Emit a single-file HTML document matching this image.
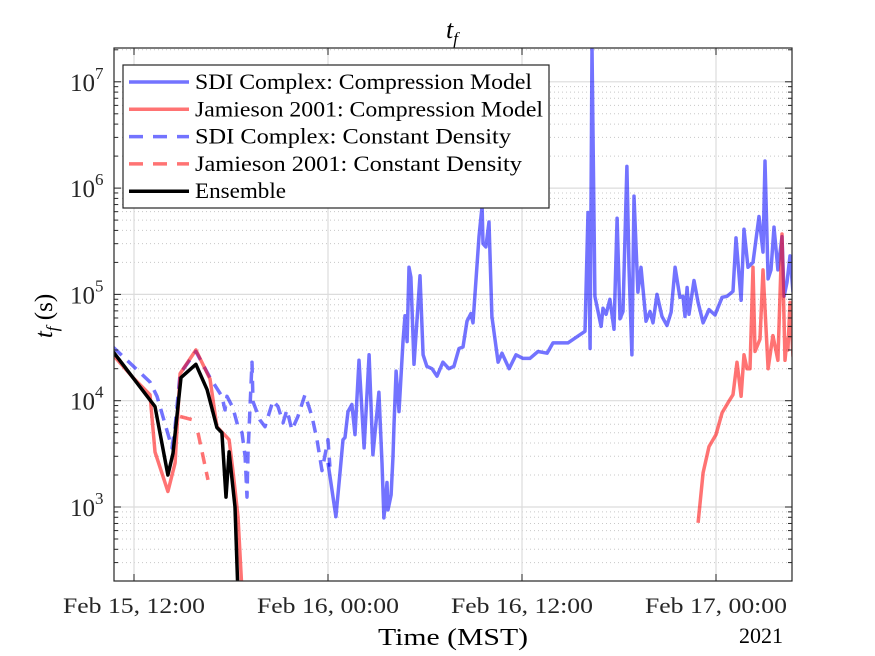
<!DOCTYPE html>
<html><head><meta charset="utf-8"><style>
html,body{margin:0;padding:0;background:#fff;}
svg{display:block;}
text{font-family:"Liberation Serif",serif;}
</style></head><body>
<svg id="chart" width="875" height="656" viewBox="0 0 875 656" xmlns="http://www.w3.org/2000/svg" font-family="Liberation Serif, serif">
<rect width="875" height="656" fill="#fff"/>
<g id="grid"></g>
<g id="series"></g>
<g id="axes"></g>
<text x="452" y="38" font-size="26" font-style="italic" text-anchor="middle" font-family="Liberation Serif, serif">t<tspan font-size="17" dy="6">f</tspan></text>
<text transform="translate(52,316) rotate(-90)" font-size="25" text-anchor="middle" font-family="Liberation Serif, serif"><tspan font-style="italic">t</tspan><tspan font-style="italic" font-size="17" dy="6">f</tspan><tspan dy="-6"> (s)</tspan></text>
<text x="453" y="645" font-size="24" text-anchor="middle" font-family="Liberation Serif, serif" textLength="150" lengthAdjust="spacingAndGlyphs">Time (MST)</text>
<text x="783" y="643" font-size="22" text-anchor="end" font-family="Liberation Serif, serif">2021</text>
<g id="legend"></g>
</svg>
<script>
// hours since Feb 15 2021 00:00 MST, tf in seconds
const sdiCompT=[24.0,24.49,24.74,24.93,25.05,25.24,25.48,25.67,25.92,26.23,26.54,26.78,27.15,27.34,27.46,27.65,27.71,27.90,28.02,28.08,28.21,28.39,28.64,28.76,28.89,29.01,29.13,29.32,29.69,29.88,30.12,30.43,30.74,31.11,31.48,31.79,32.10,32.35,32.60,32.84,32.97,33.34,33.53,33.59,33.77,33.96,34.14,34.52,34.76,35.20,35.63,36.06,36.49,36.99,37.55,37.92,38.84,39.90,40.08,40.21,40.33,40.51,40.89,41.01,41.20,41.44,41.69,41.88,42.06,42.25,42.49,42.62,42.80,42.93,43.17,43.36,43.67,43.92,44.10,44.35,44.66,44.97,45.22,45.47,45.77,45.96,46.08,46.21,46.33,46.64,46.89,47.20,47.57,47.94,48.38,48.68,49.05,49.24,49.55,49.73,49.98,50.29,50.66,50.91,51.03,51.22,51.40,51.59,51.83,52.08,52.21,52.39,52.58,52.76];
const sdiCompV=[2.6e3,8.1e2,2.1e3,4.3e3,4.5e3,7.9e3,9.2e3,4.8e3,2.4e4,3.6e3,2.7e4,3.1e3,1.2e4,2.6e3,7.9e2,1.7e3,9.4e2,1.3e3,3.0e3,5.9e3,1.9e4,7.9e3,3.6e4,6.3e4,3.6e4,1.8e5,1.45e5,2.2e4,1.5e5,2.7e4,2.1e4,2.0e4,1.7e4,2.3e4,2.0e4,2.1e4,3.1e4,3.2e4,5.6e4,6.6e4,5.4e4,3.5e5,6.8e5,3.0e5,2.8e5,4.8e5,6.2e4,2.3e4,2.8e4,2.0e4,2.7e4,2.5e4,2.5e4,2.9e4,2.8e4,3.5e4,3.5e4,4.5e4,5.9e5,3.1e4,2.1e7,9.6e4,5.0e4,7.4e4,6.5e4,9.0e4,4.7e4,5.2e5,5.9e4,6.9e4,1.6e6,1.8e5,2.7e4,8.4e5,1.05e5,1.8e5,5.6e4,6.9e4,5.4e4,1.0e5,6.2e4,5.1e4,6.8e4,1.8e5,9.4e4,9.6e4,6.2e4,1.16e5,6.5e4,1.35e5,8.4e4,5.4e4,7.2e4,6.4e4,9.4e4,9.6e4,1.07e5,3.4e5,8.8e4,4.1e5,1.8e5,2.0e5,5.4e5,2.5e5,1.8e6,1.4e5,1.7e5,4.3e5,1.7e5,3.5e5,9.6e4,1.3e5,2.3e5,1.05e5];
const jamCompT=[10.70,11.94,12.99,13.30,14.10,14.54,14.85,15.83,16.70,17.13,17.88,18.12,18.43,18.68,null,46.89,47.20,47.57,48.0,48.38,48.75,49.05,49.30,49.55,49.73,49.92,50.10,50.29,50.41,50.72,50.91,51.22,51.52,51.83,52.08,52.27,52.39,52.45,52.58,52.76];
const jamCompV=[2.7e4,1.65e4,1.14e4,3.3e3,1.4e3,2.6e3,1.8e4,3.0e4,1.6e4,5.7e3,4.3e3,2.2e3,8.1e2,1.6e2,null,7.1e2,2.1e3,3.7e3,4.8e3,7.7e3,9.6e3,1.14e4,2.3e4,1.1e4,2.7e4,2.0e4,2.0e4,1.8e5,2.9e4,3.8e4,1.7e5,2.0e4,4.1e4,2.4e4,3.7e5,2.4e4,3.8e4,3.0e4,8.4e4,2.6e4];
const sdiConstT=[10.70,12.99,13.42,14.35,14.54,14.85,15.83,16.70,17.44,17.63,17.75,18.12,18.43,18.68,18.87,18.99,19.05,19.30,19.36,19.79,20.10,20.60,20.91,21.22,21.46,21.77,22.14,22.58,23.01,23.32,23.63,24.0,24.12];
const sdiConstV=[3.2e4,1.5e4,1.1e4,3.6e3,5.7e3,1.8e4,2.9e4,1.65e4,1.1e4,8.2e3,1.1e4,8.6e3,5.7e3,5.0e3,3.0e3,1.24e3,3.2e3,2.3e4,9.8e3,6.6e3,5.7e3,1.0e4,8.8e3,6.2e3,8.2e3,5.3e3,7.1e3,1.14e4,7.1e3,4.3e3,2.2e3,4.3e3,2.4e3];
const jamConstT=[14.85,15.65,null,15.96,16.58];
const jamConstV=[7.1e3,6.6e3,null,5.0e3,1.8e3];
const ensT=[10.70,13.30,14.10,14.41,14.91,15.83,16.52,17.13,17.44,17.69,17.88,18.25,18.43];
const ensV=[2.9e4,8.8e3,2.0e3,3.2e3,1.65e4,2.2e4,1.27e4,5.6e3,5.0e3,1.24e3,3.3e3,1.0e3,1.5e2];
const xTickHours=[12,24,36,48];
const xTickLabels=["Feb 15, 12:00","Feb 16, 00:00","Feb 16, 12:00","Feb 17, 00:00"];
const yTickExps=[3,4,5,6,7];
const legendLabels=["SDI Complex: Compression Model","Jamieson 2001: Compression Model","SDI Complex: Constant Density","Jamieson 2001: Constant Density","Ensemble"];

const NS="http://www.w3.org/2000/svg";
const FF="Liberation Serif, serif";
const L=114,R=792,T=48,B=581;
const X0=12,PX0=134,PXH=194/12;
const Y3=507,DEC=106.3;
function xs(h){return PX0+(h-X0)*PXH;}
function ys(v){return Y3-(Math.log10(v)-3)*DEC;}
function mk(tag,attrs,parent){const e=document.createElementNS(NS,tag);for(const k in attrs)e.setAttribute(k,attrs[k]);parent.appendChild(e);return e;}
const grid=document.getElementById('grid'),axes=document.getElementById('axes'),series=document.getElementById('series'),legend=document.getElementById('legend');
for(let e=2;e<=7;e++){for(let m=2;m<=9;m++){const v=m*10**e;const y=ys(v);if(y<T||y>B)continue;
 const g=mk('line',{x1:L,x2:R,y1:y,y2:y,stroke:'#c8c8c8','stroke-width':1,'stroke-dasharray':'1,3'},grid);
 
 const t1=mk('line',{x1:L,x2:L+4,y1:y,y2:y,stroke:'#262626','stroke-width':1},axes);
 const t2=mk('line',{x1:R,x2:R-4,y1:y,y2:y,stroke:'#262626','stroke-width':1},axes);
}}
yTickExps.forEach(e=>{const y=ys(10**e);
 const g=mk('line',{x1:L,x2:R,y1:y,y2:y,stroke:'#dcdcdc','stroke-width':1.2},grid);
 const t1=mk('line',{x1:L,x2:L+7,y1:y,y2:y,stroke:'#262626','stroke-width':1},axes);
 const t2=mk('line',{x1:R,x2:R-7,y1:y,y2:y,stroke:'#262626','stroke-width':1},axes);
 const tx=mk('text',{x:70,y:y+9,'font-size':25,fill:'#262626','font-family':FF},axes);tx.textContent='10';
 const sp=mk('tspan',{'font-size':17,dy:-12},tx);sp.textContent=String(e);
 
});
xTickHours.forEach((h,i)=>{const x=xs(h);
 const g=mk('line',{x1:x,x2:x,y1:T,y2:B,stroke:'#dcdcdc','stroke-width':1.2},grid);
 const t1=mk('line',{x1:x,x2:x,y1:B,y2:B-7,stroke:'#262626','stroke-width':1},axes);
 const t2=mk('line',{x1:x,x2:x,y1:T,y2:T+7,stroke:'#262626','stroke-width':1},axes);
 const tx=mk('text',{x:x-71,y:613,'font-size':22,fill:'#262626','font-family':FF,textLength:142,lengthAdjust:'spacingAndGlyphs'},axes);tx.textContent=xTickLabels[i];
 
});
const box=mk('rect',{x:L,y:T,width:R-L,height:B-T,fill:'none',stroke:'#262626','stroke-width':1.2},axes);

const defs=mk('defs',{},series);const cp=mk('clipPath',{id:'pc'},defs);mk('rect',{x:L,y:T,width:R-L,height:B-T},cp);
function pathD(ts,vs){let d='',pen=false;for(let i=0;i<ts.length;i++){if(ts[i]==null||vs[i]==null){pen=false;continue;}d+=(pen?'L':'M')+xs(ts[i]).toFixed(1)+','+ys(vs[i]).toFixed(1);pen=true;}return d;}
const styles=[
 {t:sdiConstT,v:sdiConstV,c:'rgba(0,0,255,0.55)',dash:'12,8',name:'sdi-constant-density-line'},
 {t:jamConstT,v:jamConstV,c:'rgba(255,0,0,0.55)',dash:'12,8',name:'jamieson-constant-density-line'},
 {t:sdiCompT,v:sdiCompV,c:'rgba(0,0,255,0.55)',dash:'',name:'sdi-compression-line'},
 {t:jamCompT,v:jamCompV,c:'rgba(255,0,0,0.55)',dash:'',name:'jamieson-compression-line'},
 {t:ensT,v:ensV,c:'#000',dash:'',name:'ensemble-line'}];
styles.forEach(s=>{const p=mk('path',{d:pathD(s.t,s.v),fill:'none',stroke:s.c,'stroke-width':3.5,'stroke-linejoin':'round','clip-path':'url(#pc)'},series);
 if(s.dash)p.setAttribute('stroke-dasharray',s.dash);
 });
const lb=mk('rect',{x:123,y:65,width:426,height:143,fill:'#fff',stroke:'#262626','stroke-width':1.2},legend);

const legC=['rgba(0,0,255,0.55)','rgba(255,0,0,0.55)','rgba(0,0,255,0.55)','rgba(255,0,0,0.55)','#000'];
const legD=['','','14,10','14,10',''];
const legW=[337,348,316,327,91];
legendLabels.forEach((lab,i)=>{const y=82+i*27.3;
 const ln=mk('line',{x1:129,x2:189,y1:y,y2:y,stroke:legC[i],'stroke-width':3.5},legend);if(legD[i])ln.setAttribute('stroke-dasharray',legD[i]);
 
 const tx=mk('text',{x:195,y:y+7,'font-size':22,fill:'#000','font-family':FF,textLength:legW[i],lengthAdjust:'spacingAndGlyphs'},legend);tx.textContent=lab;
 
});
</script>
</body></html>
